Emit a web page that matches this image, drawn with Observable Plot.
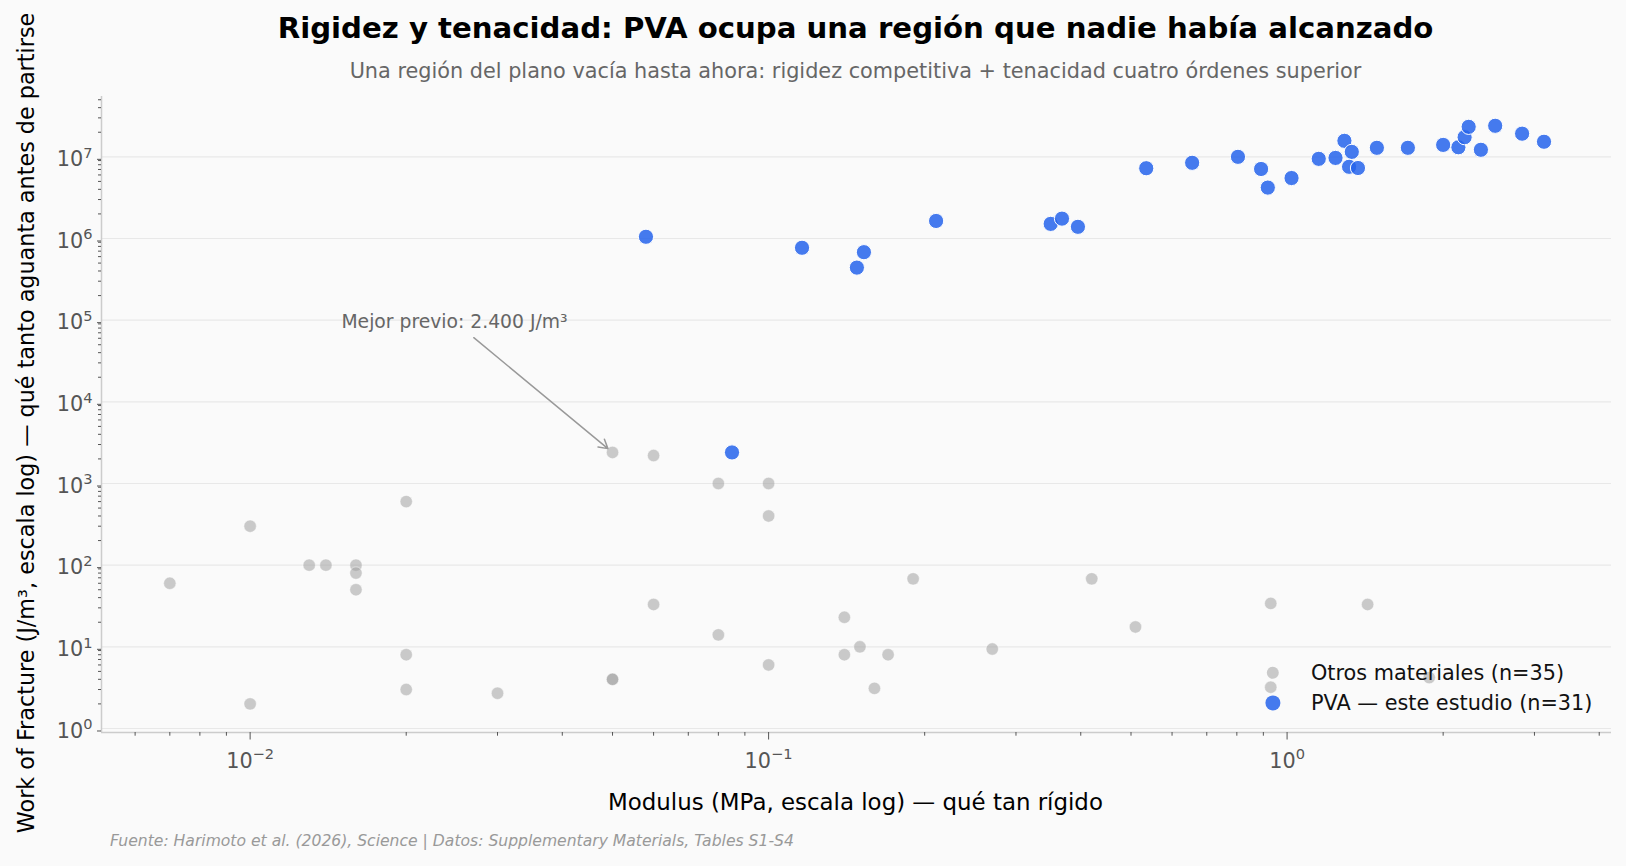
<!DOCTYPE html>
<html><head><meta charset="utf-8">
<script src="https://cdn.jsdelivr.net/npm/d3@7"></script>
<script src="https://cdn.jsdelivr.net/npm/@observablehq/plot@0.6"></script>
<style>
html,body{margin:0;padding:0;background:#fafafa;}
#wrap{position:relative;width:1626px;height:866px;font-family:"DejaVu Sans",sans-serif;overflow:hidden;background:#fafafa;}
#chart{position:absolute;left:0;top:0;}
.t{position:absolute;white-space:nowrap;line-height:1;}
#title{left:855.5px;top:29px;transform:translate(-50%,-50%);font-size:29.2px;font-weight:bold;color:#000;}
#subtitle{left:855.5px;top:70.5px;transform:translate(-50%,-50%);font-size:20.8px;color:#666;}
#xlabel{left:855.5px;top:801.5px;transform:translate(-50%,-50%);font-size:22.9px;color:#000;}
#ylabel{left:26px;top:423px;transform:translate(-50%,-50%) rotate(-90deg);font-size:22.3px;color:#000;}
#footer{left:110px;top:842px;transform:translateY(-50%);font-size:15.6px;font-style:italic;color:#999;}
.leg{position:absolute;white-space:nowrap;line-height:1;font-size:20.8px;color:#111;transform:translateY(-50%);}
.mk{position:absolute;border-radius:50%;transform:translate(-50%,-50%);}
</style></head><body>
<div id="wrap">
<div id="chart"></div>
<div class="t" id="title"></div>
<div class="t" id="subtitle"></div>
<div class="t" id="xlabel"></div>
<div class="t" id="ylabel"></div>
<div class="t" id="footer"></div>
<div id="legend"></div>
</div>
<script>
// ---- Data ----
const otrosX = [0.007, 0.01, 0.01, 0.013, 0.014, 0.016, 0.016, 0.016, 0.02, 0.02, 0.02, 0.03, 0.05, 0.06, 0.08, 0.1, 0.1, 0.06, 0.08, 0.1, 0.05, 0.05, 0.14, 0.14, 0.15, 0.17, 0.16, 0.19, 0.27, 0.42, 0.51, 0.93, 1.43, 0.93, 1.88];
const otrosY = [60, 300, 2, 100, 100, 100, 80, 50, 600, 8, 3, 2.7, 2400, 2200, 1000, 1000, 400, 33, 14, 6, 4, 4, 23, 8, 10, 8, 3.1, 68, 9.4, 68, 17.5, 34, 33, 3.2, 4.2];
const pvaX = [0.058, 0.116, 0.1527, 0.148, 0.2104, 0.35, 0.368, 0.395, 0.085, 0.535, 0.656, 0.804, 0.891, 0.918, 1.02, 1.151, 1.24, 1.29, 1.333, 1.317, 1.37, 1.49, 1.71, 2.0, 2.14, 2.20, 2.24, 2.365, 2.52, 2.84, 3.13];
const pvaY = [1.05e6, 7.7e5, 6.8e5, 4.4e5, 1.64e6, 1.51e6, 1.75e6, 1.39e6, 2400, 7.25e6, 8.45e6, 1.0e7, 7.1e6, 4.2e6, 5.5e6, 9.45e6, 9.7e6, 1.57e7, 1.15e7, 7.55e6, 7.3e6, 1.29e7, 1.29e7, 1.4e7, 1.31e7, 1.74e7, 2.33e7, 1.22e7, 2.4e7, 1.92e7, 1.53e7];

const xMajor = [0.01, 0.1, 1];
const xMinor = [0.006, 0.007, 0.008, 0.009, 0.02, 0.03, 0.04, 0.05, 0.06, 0.07, 0.08, 0.09, 0.2, 0.3, 0.4, 0.5, 0.6, 0.7, 0.8, 0.9, 2, 3, 4];
const yMajor = [1, 10, 100, 1e3, 1e4, 1e5, 1e6, 1e7];
const yMinor = [2,3,4,5,6,7,8,9, 20,30,40,50,60,70,80,90, 200,300,400,500,600,700,800,900, 2e3,3e3,4e3,5e3,6e3,7e3,8e3,9e3, 2e4,3e4,4e4,5e4,6e4,7e4,8e4,9e4, 2e5,3e5,4e5,5e5,6e5,7e5,8e5,9e5, 2e6,3e6,4e6,5e6,6e6,7e6,8e6,9e6, 2e7,3e7,4e7,5e7];
const xDomain = [0.005168, 4.224];
const yDomain = [0.893, 5.48e7];

const annotLabel = ["Mejor previo: 2.400 J/m³"];
const annotTextX = [0.015];
const annotTextY = [1e5];
const arrowFromX = [0.027];
const arrowFromY = [6.1e4];
const arrowToX = [0.05];
const arrowToY = [2400];

const titleText = "Rigidez y tenacidad: PVA ocupa una región que nadie había alcanzado";
const subtitleText = "Una región del plano vacía hasta ahora: rigidez competitiva + tenacidad cuatro órdenes superior";
const xLabelText = "Modulus (MPa, escala log) — qué tan rígido";
const yLabelText = "Work of Fracture (J/m³, escala log) — qué tanto aguanta antes de partirse";
const footerText = "Fuente: Harimoto et al. (2026), Science | Datos: Supplementary Materials, Tables S1-S4";
const legendLabels = ["Otros materiales (n=35)", "PVA — este estudio (n=31)"];

// ---- Build ----
const otros = otrosX.map((x, i) => ({x, y: otrosY[i]}));
const pva = pvaX.map((x, i) => ({x, y: pvaY[i]}));
const annot = annotLabel.map((t, i) => ({t, tx: annotTextX[i], ty: annotTextY[i], x1: arrowFromX[i], y1: arrowFromY[i], x2: arrowToX[i], y2: arrowToY[i]}));

const fmt = v => "10^" + String(Math.round(Math.log10(v))).replace("-", "\u2212");

const chart = Plot.plot({
  width: 1626, height: 866,
  marginLeft: 101, marginRight: 15, marginTop: 96, marginBottom: 134,
  style: {background: "transparent", fontFamily: "DejaVu Sans, sans-serif", overflow: "visible"},
  x: {type: "log", domain: xDomain},
  y: {type: "log", domain: yDomain},
  marks: [
    Plot.gridY({ticks: yMajor, stroke: "#e8e8e8", strokeOpacity: 1, strokeWidth: 1.2}),
    Plot.dot(otros, {x: "x", y: "y", r: 6.2, fill: "#a0a0a0", fillOpacity: 0.55, stroke: "#ffffff", strokeWidth: 0.6, strokeOpacity: 0.8}),
    Plot.dot(pva, {x: "x", y: "y", r: 7.6, fill: "#2563eb", fillOpacity: 0.85, stroke: "#ffffff", strokeWidth: 1}),
    Plot.arrow(annot, {x1: "x1", y1: "y1", x2: "x2", y2: "y2", stroke: "#999999", strokeWidth: 1.5, headLength: 10, insetEnd: 6}),
    Plot.text(annot, {x: "tx", y: "ty", text: "t", textAnchor: "start", fill: "#666666", fontSize: 18.75, dy: 2}),
    Plot.ruleX([xDomain[0]], {stroke: "#cccccc", strokeWidth: 1.5}),
    Plot.ruleY([yDomain[0]], {stroke: "#cccccc", strokeWidth: 1.5}),
    Plot.axisY({ticks: yMajor, tickFormat: fmt, tickSize: 4, tickPadding: 5, dy: 2.5, fontSize: 20.8, color: "#555555", label: null}),
    Plot.axisY({ticks: yMinor, tickFormat: () => "", tickSize: 3, color: "#555555", label: null}),
    Plot.axisX({ticks: xMajor, tickFormat: fmt, tickSize: 7.5, tickPadding: 13, fontSize: 20.8, color: "#555555", label: null}),
    Plot.axisX({ticks: xMinor, tickFormat: () => "", tickSize: 3.7, color: "#555555", label: null})
  ]
});
document.getElementById("chart").appendChild(chart);

// Render "10^n" tick labels with a raised, smaller exponent
const NS = "http://www.w3.org/2000/svg";
chart.querySelectorAll("text").forEach(t => {
  const s = t.textContent;
  if (s.includes("^")) {
    const [base, exp] = s.split("^");
    while (t.firstChild) t.removeChild(t.firstChild);
    const a = document.createElementNS(NS, "tspan");
    a.textContent = base;
    const b = document.createElementNS(NS, "tspan");
    b.textContent = exp;
    b.setAttribute("font-size", "14.6");
    b.setAttribute("dy", "-8.3");
    t.append(a, b);
  }
});

document.getElementById("title").textContent = titleText;
document.getElementById("subtitle").textContent = subtitleText;
document.getElementById("xlabel").textContent = xLabelText;
document.getElementById("ylabel").textContent = yLabelText;
document.getElementById("footer").textContent = footerText;

const leg = document.getElementById("legend");
const legStyles = [
  {cy: 673, r: 6.2, bg: "rgba(160,160,160,0.55)"},
  {cy: 703, r: 7.6, bg: "rgba(37,99,235,0.85)"}
];
legendLabels.forEach((lab, i) => {
  const s = legStyles[i];
  const m = document.createElement("div");
  m.className = "mk";
  m.style.left = "1273px"; m.style.top = s.cy + "px";
  m.style.width = (2 * s.r) + "px"; m.style.height = (2 * s.r) + "px";
  m.style.background = s.bg;
  leg.appendChild(m);
  const t = document.createElement("div");
  t.className = "leg";
  t.style.left = "1311px"; t.style.top = s.cy + "px";
  t.textContent = lab;
  leg.appendChild(t);
});
</script>
</body></html>
